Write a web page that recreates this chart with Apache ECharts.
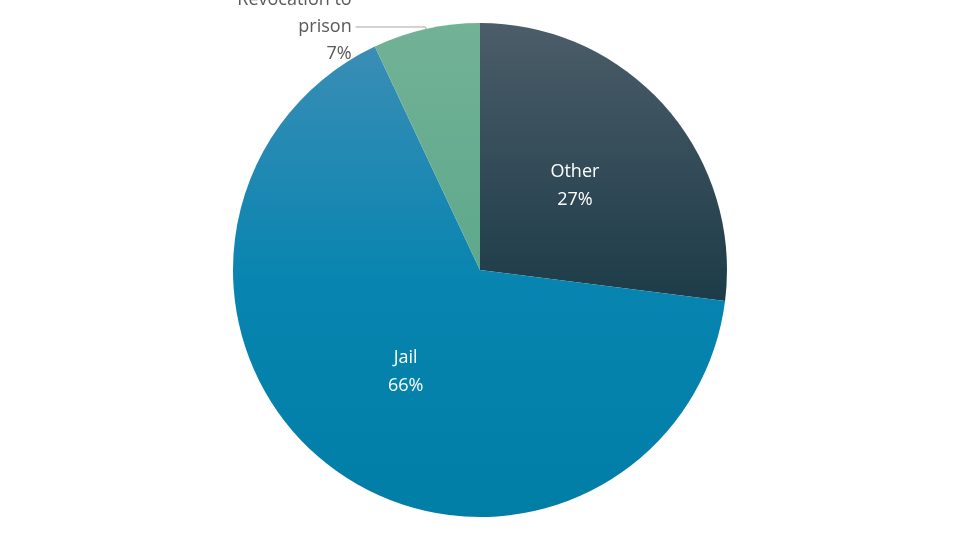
<!DOCTYPE html>
<html><head><meta charset="utf-8">
<script src="https://cdn.jsdelivr.net/npm/echarts@6/dist/echarts.min.js"></script>
<style>html,body{margin:0;background:#fff}#c{width:960px;height:539px}</style>
</head><body><div id="c"></div>
<script>
const categories = ['Other', 'Jail', 'Revocation to\nprison'];
const values = [27, 66, 7];
const G = echarts.graphic;
const colors = [
  new G.LinearGradient(0,0,0,1,[{offset:0,color:'#4b5d69'},{offset:1,color:'#1d3b48'}]),
  new G.LinearGradient(0,0,0,1,[{offset:0,color:'#3a8db5'},{offset:0.5,color:'#0785b0'},{offset:1,color:'#007ea6'}]),
  new G.LinearGradient(0,0,0,1,[{offset:0,color:'#72b296'},{offset:1,color:'#5ea88c'}])
];
const chart = echarts.init(document.getElementById('c'));
chart.setOption({
  animation:false,
  series:[{
    type:'pie', center:[480,270], radius:[0,247], startAngle:90, clockwise:true,
    itemStyle:{borderWidth:0},
    label:{position:'inside', color:'#fff', fontSize:18, lineHeight:28, fontFamily:'Open Sans',
      formatter:p=>p.name+'\n'+p.value+'%'},
    data: values.map((v,i)=>{
      const d={name:categories[i], value:v, itemStyle:{color:colors[i]}};
      if(i===2){
        d.label={position:'outside', color:'#595959', fontSize:18, lineHeight:27, align:'center', distanceToLabelLine:4};
        d.labelLine={show:true, length:2, length2:70, lineStyle:{color:'#a6a6a6', width:1}};
      }
      return d;
    })
  }]
});
</script></body></html>
